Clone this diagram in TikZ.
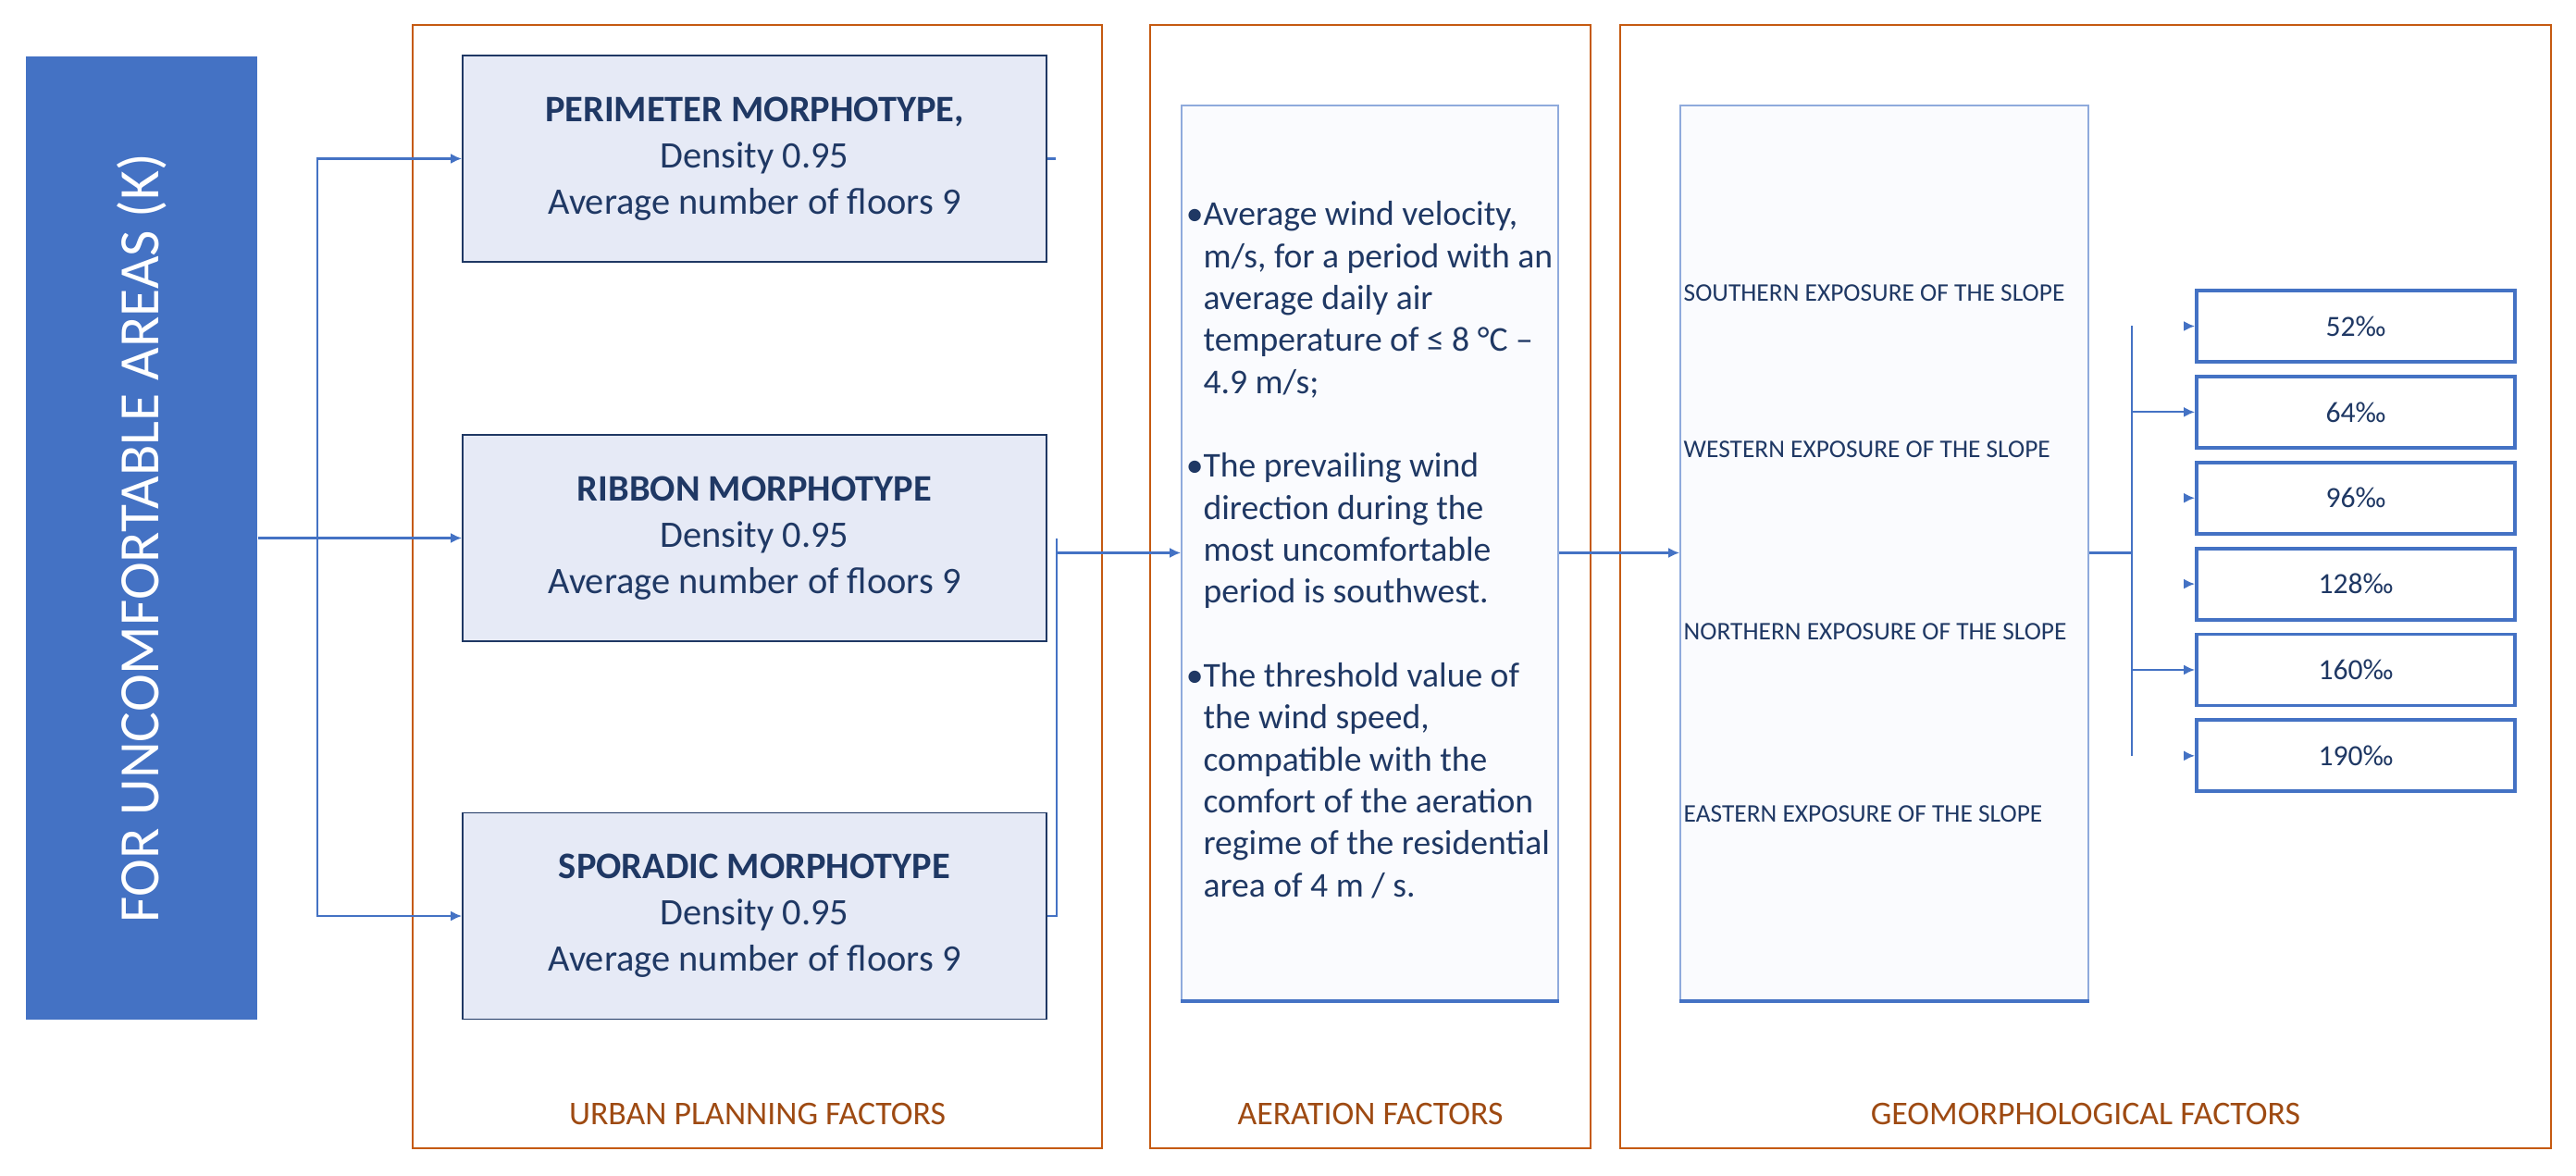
\documentclass[tikz,border=0pt]{standalone}
\usepackage{fontspec}
\setmainfont{Carlito}
\usetikzlibrary{arrows.meta,positioning}
\definecolor{ubar}{HTML}{4472C4}
\definecolor{uorange}{HTML}{C55A11}
\definecolor{ulabel}{HTML}{9E4A12}
\definecolor{unavy}{HTML}{1F3864}
\definecolor{ulav}{HTML}{E6EAF6}
\definecolor{upale}{HTML}{FAFBFE}
\definecolor{uedge}{HTML}{8FAADC}
\begin{document}
\begin{tikzpicture}[
  node distance=1.2mm,
  every node/.style={align=center, inner sep=0pt},
  factorbox/.style={draw=uorange, line width=0.6pt, minimum width=#1, minimum height=12.14cm},
  flabel/.style={text=ulabel, font=\fontsize{10.2}{12}\selectfont},
  morph/.style={draw=unavy, line width=0.5pt, fill=ulav, text=unavy, minimum width=6.31cm, minimum height=2.23cm, font=\fontsize{11.5}{14.2}\selectfont},
  panel/.style={draw=uedge, line width=0.5pt, fill=upale, minimum width=#1, minimum height=9.67cm},
  slope/.style={anchor=west, text=unavy, font=\fontsize{7.8}{9}\selectfont},
  pct/.style={draw=ubar, line width=1.1pt, fill=white, text=unavy, minimum width=3.44cm, minimum height=0.77cm, font=\fontsize{9}{11}\selectfont},
  conn/.style={draw=ubar, line width=0.6pt},
  arr/.style={conn, -{Latex[length=1.2mm,width=1.1mm]}}
]
\useasboundingbox (0,0) rectangle (27.84,-12.71);
\node[factorbox=7.45cm] (urban) at (8.185,-6.34) {};
\node[factorbox=4.76cm] (aerframe) at (14.81,-6.34) {};
\node[factorbox=10.06cm] (geoframe) at (22.54,-6.34) {};
\node[flabel] (urbanlbl) at (8.185,-12.04) {URBAN PLANNING FACTORS};
\node[flabel] (aerlbl) at (14.81,-12.04) {AERATION FACTORS};
\node[flabel] (geolbl) at (22.54,-12.04) {GEOMORPHOLOGICAL FACTORS};

\node[fill=ubar, minimum width=2.5cm, minimum height=10.41cm] (bar) at (1.53,-5.815) {};
\node[rotate=90, text=white, font=\fontsize{17.5}{20}\selectfont] (bartxt) at (bar) {FOR UNCOMFORTABLE AREAS (K)};

\node[morph] (perim) at (8.155,-1.715) {\textbf{PERIMETER MORPHOTYPE,}\\Density 0.95\\Average number of floors 9};
\node[morph] (ribbon) at (8.155,-5.815) {\textbf{RIBBON MORPHOTYPE}\\Density 0.95\\Average number of floors 9};
\node[morph] (sporadic) at (8.155,-9.9) {\textbf{SPORADIC MORPHOTYPE}\\Density 0.95\\Average number of floors 9};

\node[panel=4.07cm] (aero) at (14.805,-5.975) {};
\draw[ubar, line width=1pt] (aero.south west) -- (aero.south east);
\node[anchor=west, text=unavy, font=\fontsize{10.7}{12.9}\selectfont] (aerotxt) at ([xshift=0.05cm]aero.west) {%
\begin{tabular}{@{}l@{}l@{}}
•&Average wind velocity,\\
&m/s, for a period with an\\
&average daily air\\
&temperature of ≤ 8 °C –\\
&4.9 m/s;\\
&\\
•&The prevailing wind\\
&direction during the\\
&most uncomfortable\\
&period is southwest.\\
&\\
•&The threshold value of\\
&the wind speed,\\
&compatible with the\\
&comfort of the aeration\\
&regime of the residential\\
&area of 4 m / s.
\end{tabular}};

\node[panel=4.41cm] (geo) at (20.365,-5.975) {};
\draw[ubar, line width=1pt] (geo.south west) -- (geo.south east);
\node[slope] (slopeS) at (18.19,-3.17) {SOUTHERN EXPOSURE OF THE SLOPE};
\node[slope] (slopeW) at (18.19,-4.86) {WESTERN EXPOSURE OF THE SLOPE};
\node[slope] (slopeN) at (18.19,-6.83) {NORTHERN EXPOSURE OF THE SLOPE};
\node[slope] (slopeE) at (18.19,-8.80) {EASTERN EXPOSURE OF THE SLOPE};

\node[pct] (p52) at (25.46,-3.525) {52‰};
\node[pct, below=of p52] (p64) {64‰};
\node[pct, below=of p64] (p96) {96‰};
\node[pct, below=of p96] (p128) {128‰};
\node[pct, below=of p128] (p160) {160‰};
\node[pct, below=of p160] (p190) {190‰};

\coordinate (ltrunk) at (3.43,-5.815);
\draw[arr] (bar) -- (ribbon);
\draw[arr] (ltrunk) |- (perim);
\draw[arr] (ltrunk) |- (sporadic);
\draw[conn] (perim.east) -- ++(0.09,0);
\coordinate (rtrunk) at (11.42,-5.82);
\coordinate (rjoin) at (11.42,-5.975);
\draw[conn] (sporadic.east) -| (rtrunk);
\draw[arr] (rjoin) -- (aero);
\draw[arr] (aero) -- (geo);
\coordinate (gtrunk) at (23.04,-5.975);
\draw[conn] (geo) -- (gtrunk);
\draw[conn] (p52.west -| gtrunk) -- (p190.west -| gtrunk);
\draw[arr] (p64.west -| gtrunk) -- (p64);
\draw[arr] (p160.west -| gtrunk) -- (p160);
\foreach \p in {p52,p96,p128,p190}
  \draw[arr] ([xshift=-0.07cm]\p.west) -- (\p);
\end{tikzpicture}
\end{document}
